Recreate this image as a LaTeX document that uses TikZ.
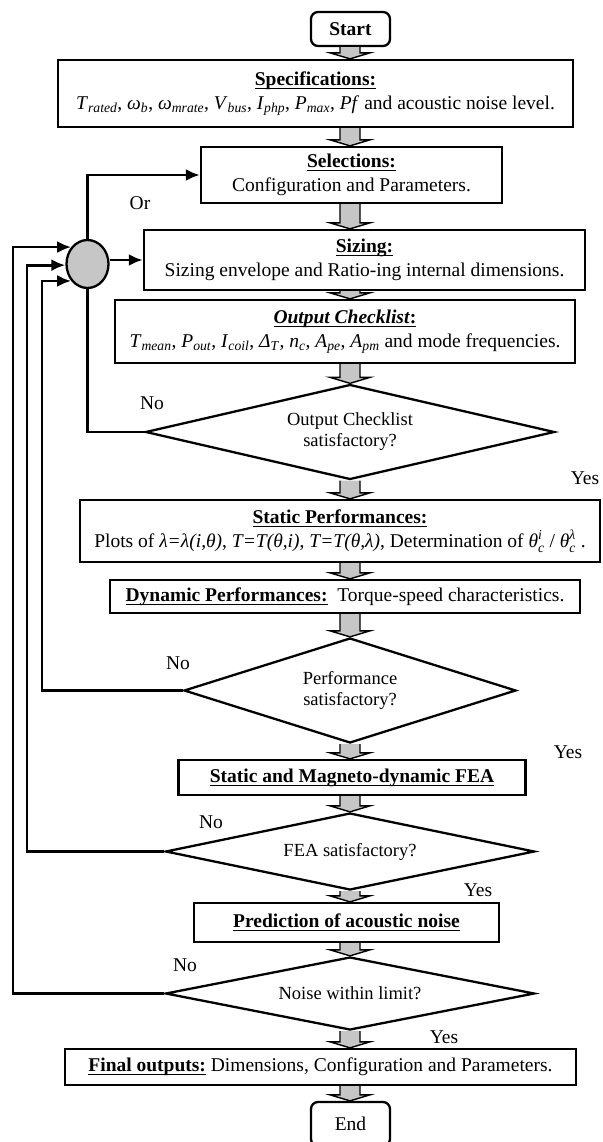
\documentclass[tikz,border=0pt]{standalone}
\usepackage{amsmath}
\usepackage{fontspec}
\setmainfont{Liberation Serif}
\usetikzlibrary{arrows.meta,shapes.geometric,calc}

\tikzset{
  box/.style={draw, line width=2.3pt, fill=white, align=center, inner sep=0pt},
  term/.style={box, rounded corners=7pt},
  cond/.style={diamond, draw, line width=2.3pt, fill=white, align=center, inner sep=0pt, font=\fontsize{18.5}{21}\selectfont},
  fb/.style={line width=2.8pt},
  garrow/.style={fill=gray!45, draw=black, line width=1.4pt, line join=miter},
  lbl/.style={font=\fontsize{19.5}{22}\selectfont},
}
\newcommand\vsub[2]{\textit{#1}\textsubscript{\textit{#2}}}
\newcommand\heading[1]{\underline{\smash[b]{\textbf{#1}}}}
\newcommand\grayflow[2]{%
  \coordinate (ga) at (#1.south -| axis);
  \coordinate (gb) at (#2.north -| axis);
  \filldraw[garrow] ($(ga)+(-10,0)$) -- ($(gb)+(-10,-6)$) -- ($(gb)+(-20,-6)$) -- (gb)
    -- ($(gb)+(20,-6)$) -- ($(gb)+(10,-6)$) -- ($(ga)+(10,0)$);
}

\begin{document}
\begin{tikzpicture}[x=1pt, y=-1pt, every node/.style={font=\fontsize{19.5}{24}\selectfont}, >={Latex[length=14pt,width=12pt]}]
	\useasboundingbox (0,0) rectangle (602,1142);
	\coordinate (axis) at (350,0);
	\coordinate (lane1) at (13,0);
	\coordinate (lane2) at (27,0);
	\coordinate (lane3) at (42,0);
	% main column
	\node[term, minimum width=79pt, minimum height=34pt] (start) at (350.5,29) {\textbf{Start}};
	\node[box, minimum width=515pt, minimum height=67pt] (spec) at (315.5,93.5) {\heading{Specifications:}\\
		\vsub{T}{rated}, \vsub{ω}{b}, \vsub{ω}{mrate}, \vsub{V}{bus}, \vsub{I}{php}, \vsub{P}{max}, \textit{Pf} and acoustic noise level.};
	\node[box, minimum width=301pt, minimum height=56pt] (sel) at (351.5,175) {\heading{Selections:}\\Configuration and Parameters.};
	\node[ellipse, draw, line width=2.3pt, fill=gray!45, minimum width=42pt, minimum height=48pt, inner sep=0pt] (join) at (87.5,264) {};
	\node[box, minimum width=441pt, minimum height=60pt] (size) at (364.5,260) {\heading{Sizing:}\\Sizing envelope and Ratio-ing internal dimensions.};
	\node[box, minimum width=460pt, minimum height=63pt] (check) at (345,331.5) {\heading{\textit{Output Checklist}:}\\
		\vsub{T}{mean}, \vsub{P}{out}, \vsub{I}{coil}, \vsub{Δ}{T}, \vsub{n}{c}, \vsub{A}{pe}, \vsub{A}{pm} and mode frequencies.};
	\node[cond, aspect=4.3, minimum width=409pt, minimum height=95pt] (q1) at (350,432) {Output Checklist\\satisfactory?};
	\node[box, minimum width=520pt, minimum height=62pt] (stat) at (340,531) {\heading{Static Performances:}\\
		Plots of \textit{λ=λ(i,θ)}, \textit{T=T(θ,i)}, \textit{T=T(θ,λ)}, Determination of \textit{θ}$_{\text{\itshape c}}^{\text{\itshape i}}$ / \textit{θ}$_{\text{\itshape c}}^{\text{\itshape λ}}$ .};
	\node[box, minimum width=470pt, minimum height=33pt] (dyn) at (345,596.5) {\heading{Dynamic Performances:}\ \ Torque-speed characteristics.};
	\node[cond, aspect=3.2, minimum width=332pt, minimum height=105pt] (q2) at (350,690.5) {Performance\\satisfactory?};
	\node[box, minimum width=347pt, minimum height=35pt] (fea) at (352,777.5) {\heading{Static and Magneto-dynamic FEA}};
	\node[cond, aspect=4.8, minimum width=369pt, minimum height=77pt] (q3) at (350,851.5) {FEA satisfactory?};
	\node[box, minimum width=305pt, minimum height=39pt] (noise) at (346.5,922.5) {\heading{Prediction of acoustic noise}};
	\node[cond, aspect=5, minimum width=369pt, minimum height=73pt] (q4) at (350,993.5) {Noise within limit?};
	\node[box, minimum width=511pt, minimum height=36pt] (final) at (320.5,1067) {\heading{Final outputs:} Dimensions, Configuration and Parameters.};
	\node[term, minimum width=79pt, minimum height=44pt] (end) at (350.5,1124) {End};
	% labels
	\node[lbl] (or) at (140,203) {Or};
	\node[lbl] (no1) at (152,403) {No};
	\node[lbl] (yes1) at (585,478) {Yes};
	\node[lbl] (no2) at (178,663) {No};
	\node[lbl] (yes2) at (568,752) {Yes};
	\node[lbl] (no3) at (211,822) {No};
	\node[lbl] (yes3) at (478,890) {Yes};
	\node[lbl] (no4) at (185,965) {No};
	\node[lbl] (yes4) at (444,1037) {Yes};
	% flow
	\grayflow{start}{spec}
	\grayflow{spec}{sel}
	\grayflow{sel}{size}
	\grayflow{size}{check}
	\grayflow{check}{q1}
	\grayflow{q1}{stat}
	\grayflow{stat}{dyn}
	\grayflow{dyn}{q2}
	\grayflow{q2}{fea}
	\grayflow{fea}{q3}
	\grayflow{q3}{noise}
	\grayflow{noise}{q4}
	\grayflow{q4}{final}
	\grayflow{final}{end}
	% loops back
	\draw[fb, ->] (join.north) |- (sel.west);
	\draw[fb, ->] (size.west -| join.east) -- (size.west);
	\draw[fb] (q1.west) -| (join.south);
	\draw[fb, ->] (q2.west) -- (q2.west -| lane3) |- (join.226);
	\draw[fb, ->] (q3.west) -- (q3.west -| lane2) |- (join.183);
	\draw[fb, ->] (q4.west) -- (q4.west -| lane1) |- (join.134);
\end{tikzpicture}
\end{document}
